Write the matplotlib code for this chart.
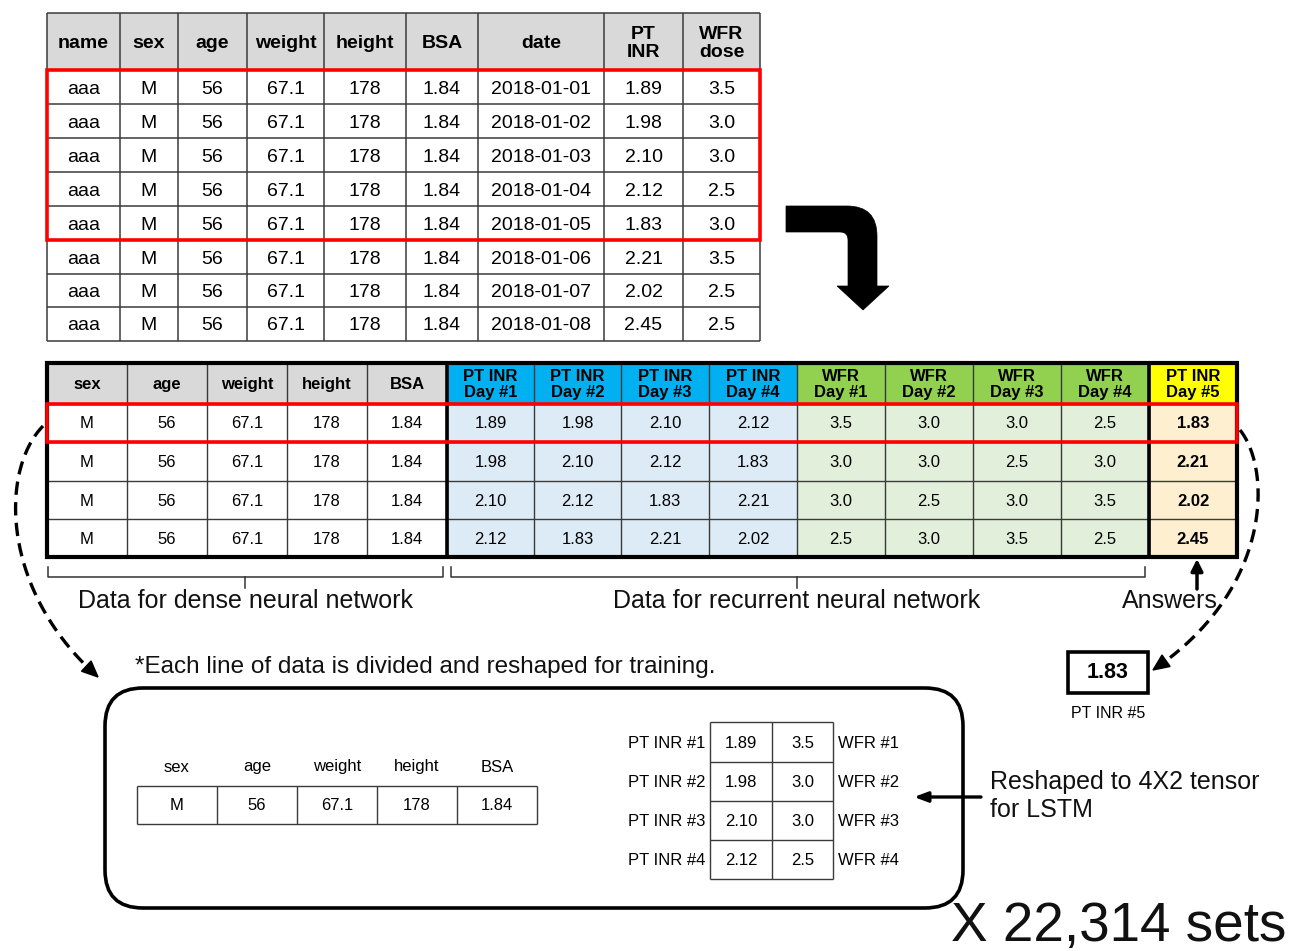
import matplotlib
matplotlib.use('Agg')
import matplotlib.pyplot as plt
from matplotlib.patches import Rectangle, FancyBboxPatch, Polygon, PathPatch
from matplotlib.path import Path
import numpy as np

plt.rcParams['font.family'] = ['Liberation Sans', 'DejaVu Sans']

# ---------------- data ----------------
top_headers = ['name', 'sex', 'age', 'weight', 'height', 'BSA', 'date', 'PT\nINR', 'WFR\ndose']
top_name = ['aaa', 'aaa', 'aaa', 'aaa', 'aaa', 'aaa', 'aaa', 'aaa']
top_sex = ['M', 'M', 'M', 'M', 'M', 'M', 'M', 'M']
top_age = [56, 56, 56, 56, 56, 56, 56, 56]
top_weight = [67.1, 67.1, 67.1, 67.1, 67.1, 67.1, 67.1, 67.1]
top_height = [178, 178, 178, 178, 178, 178, 178, 178]
top_bsa = [1.84, 1.84, 1.84, 1.84, 1.84, 1.84, 1.84, 1.84]
top_date = ['2018-01-01', '2018-01-02', '2018-01-03', '2018-01-04',
            '2018-01-05', '2018-01-06', '2018-01-07', '2018-01-08']
top_ptinr = [1.89, 1.98, 2.10, 2.12, 1.83, 2.21, 2.02, 2.45]
top_wfr = [3.5, 3.0, 3.0, 2.5, 3.0, 3.5, 2.5, 2.5]

mid_static_headers = ['sex', 'age', 'weight', 'height', 'BSA']
mid_inr_headers = ['PT INR\nDay #1', 'PT INR\nDay #2', 'PT INR\nDay #3', 'PT INR\nDay #4']
mid_wfr_headers = ['WFR\nDay #1', 'WFR\nDay #2', 'WFR\nDay #3', 'WFR\nDay #4']
mid_answer_header = 'PT INR\nDay #5'
mid_sex = ['M', 'M', 'M', 'M']
mid_age = [56, 56, 56, 56]
mid_weight = [67.1, 67.1, 67.1, 67.1]
mid_height = [178, 178, 178, 178]
mid_bsa = [1.84, 1.84, 1.84, 1.84]
mid_inr = [[1.89, 1.98, 2.10, 2.12],
           [1.98, 2.10, 2.12, 1.83],
           [2.10, 2.12, 1.83, 2.21],
           [2.12, 1.83, 2.21, 2.02]]
mid_wfr = [[3.5, 3.0, 3.0, 2.5],
           [3.0, 3.0, 2.5, 3.0],
           [3.0, 2.5, 3.0, 3.5],
           [2.5, 3.0, 3.5, 2.5]]
mid_answer = [1.83, 2.21, 2.02, 2.45]

dense_headers = ['sex', 'age', 'weight', 'height', 'BSA']
dense_values = ['M', '56', '67.1', '178', '1.84']
lstm_inr_labels = ['PT INR #1', 'PT INR #2', 'PT INR #3', 'PT INR #4']
lstm_inr = [1.89, 1.98, 2.10, 2.12]
lstm_wfr = [3.5, 3.0, 3.0, 2.5]
lstm_wfr_labels = ['WFR #1', 'WFR #2', 'WFR #3', 'WFR #4']
answer_value = 1.83
answer_label = 'PT INR #5'
n_sets_text = 'X 22,314 sets'

brace_labels = ['Data for dense neural network', 'Data for recurrent neural network', 'Answers']
note_text = '*Each line of data is divided and reshaped for training.'
lstm_text = 'Reshaped to 4X2 tensor\nfor LSTM'

# ---------------- figure ----------------
W, H = 1292, 951
fig = plt.figure(figsize=(W / 100, H / 100), dpi=100)
ax = fig.add_axes([0, 0, 1, 1])
ax.set_xlim(0, W)
ax.set_ylim(H, 0)
ax.axis('off')

GRID = '#3a3a3a'


def hline(x0, x1, y, lw=1.0, color=GRID, z=3):
    ax.plot([x0, x1], [y, y], color=color, lw=lw, zorder=z, solid_capstyle='butt')


def vline(x, y0, y1, lw=1.0, color=GRID, z=3):
    ax.plot([x, x], [y0, y1], color=color, lw=lw, zorder=z, solid_capstyle='butt')


def cell(x0, x1, y0, y1, color):
    ax.add_patch(Rectangle((x0, y0), x1 - x0, y1 - y0, facecolor=color, edgecolor='none', zorder=1))


def ctext(x, y, s, size, bold=False, ls=1.0, **kw):
    ax.text(x, y, s, ha='center', va='center', fontsize=size,
            fontweight='bold' if bold else 'normal', zorder=6, linespacing=ls, **kw)


# ---------------- top table ----------------
tcx = [47, 120, 178, 247, 324, 406, 478, 604, 683, 760]
tro = [13, 70, 104, 138, 172, 206, 240, 274, 307, 341]
cell(tcx[0], tcx[-1], tro[0], tro[1], '#d9d9d9')
for x in tcx:
    vline(x, tro[0], tro[-1], lw=1.1)
for y in tro:
    hline(tcx[0], tcx[-1], y, lw=1.1)
for j, h in enumerate(top_headers):
    ctext((tcx[j] + tcx[j + 1]) / 2, (tro[0] + tro[1]) / 2 + 2, h, 14, bold=True, ls=1.15)
top_cols = [top_name, top_sex, [str(v) for v in top_age], [f'{v:.1f}' for v in top_weight],
            [str(v) for v in top_height], [f'{v:.2f}' for v in top_bsa], top_date,
            [f'{v:.2f}' for v in top_ptinr], [f'{v:.1f}' for v in top_wfr]]
for j, col in enumerate(top_cols):
    for i, v in enumerate(col):
        ctext((tcx[j] + tcx[j + 1]) / 2, (tro[i + 1] + tro[i + 2]) / 2 + 2, v, 14)
ax.add_patch(Rectangle((tcx[0], tro[1]), tcx[-1] - tcx[0], tro[6] - tro[1],
                       facecolor='none', edgecolor='#ff0000', lw=2.6, zorder=5))

# ---------------- bent arrow ----------------
verts = [(786, 206), (847, 206), (877, 206), (877, 236), (877, 286), (889, 286), (863, 310),
         (837, 286), (848, 286), (848, 240), (848, 232), (840, 232), (786, 232), (786, 206)]
codes = [Path.MOVETO, Path.LINETO, Path.CURVE3, Path.CURVE3, Path.LINETO, Path.LINETO, Path.LINETO,
         Path.LINETO, Path.LINETO, Path.LINETO, Path.CURVE3, Path.CURVE3, Path.LINETO, Path.CLOSEPOLY]
ax.add_patch(PathPatch(Path(verts, codes), facecolor='black', edgecolor='black', lw=0.5, zorder=4))

# ---------------- middle table ----------------
mcx = [47, 127, 207, 287, 367, 447, 534, 621, 709, 797, 885, 973, 1061, 1149, 1237]
mry = [363, 404, 442, 481, 519, 557]
head_cols = ['#d9d9d9'] * 5 + ['#00b0f0'] * 4 + ['#92d050'] * 4 + ['#ffff00']
body_cols = ['#ffffff'] * 5 + ['#ddebf7'] * 4 + ['#e2efda'] * 4 + ['#fdefcf']
for j in range(14):
    cell(mcx[j], mcx[j + 1], mry[0], mry[1], head_cols[j])
    cell(mcx[j], mcx[j + 1], mry[1], mry[-1], body_cols[j])
for x in mcx:
    vline(x, mry[0], mry[-1], lw=1.0)
for y in mry:
    hline(mcx[0], mcx[-1], y, lw=1.0)
ax.add_patch(Rectangle((mcx[0], mry[0]), mcx[-1] - mcx[0], mry[-1] - mry[0],
                       facecolor='none', edgecolor='black', lw=3.0, zorder=4))
vline(mcx[5], mry[0], mry[-1], lw=2.6, color='black', z=4)
vline(mcx[13], mry[0], mry[-1], lw=2.6, color='black', z=4)

mid_head_all = mid_static_headers + mid_inr_headers + mid_wfr_headers + [mid_answer_header]
for j, h in enumerate(mid_head_all):
    ctext((mcx[j] + mcx[j + 1]) / 2, (mry[0] + mry[1]) / 2 + 1, h, 12, bold=True, ls=1.08)
static_cols = [mid_sex, [str(v) for v in mid_age], [f'{v:.1f}' for v in mid_weight],
               [str(v) for v in mid_height], [f'{v:.2f}' for v in mid_bsa]]
for i in range(4):
    yc = (mry[i + 1] + mry[i + 2]) / 2 + 1
    for j in range(5):
        ctext((mcx[j] + mcx[j + 1]) / 2, yc, static_cols[j][i], 12)
    for k in range(4):
        ctext((mcx[5 + k] + mcx[6 + k]) / 2, yc, f'{mid_inr[i][k]:.2f}', 12)
        ctext((mcx[9 + k] + mcx[10 + k]) / 2, yc, f'{mid_wfr[i][k]:.1f}', 12)
    ctext((mcx[13] + mcx[14]) / 2, yc, f'{mid_answer[i]:.2f}', 12, bold=True)
ax.add_patch(Rectangle((mcx[0], mry[1]), mcx[-1] - mcx[0], mry[2] - mry[1],
                       facecolor='none', edgecolor='#ff0000', lw=2.6, zorder=5))

# ---------------- braces ----------------
def brace(x0, x1, xc, ytop=567, ymid=577, ybot=588):
    ax.plot([x0, x0, x1, x1], [ytop, ymid, ymid, ytop], color='#333333', lw=1.1, zorder=3)
    ax.plot([xc, xc], [ymid, ybot], color='#333333', lw=1.1, zorder=3)

brace(48, 443, 245)
brace(451, 1145, 797)
ax.text(245, 601, brace_labels[0], ha='center', va='center', fontsize=18, color='#111111')
ax.text(797, 601, brace_labels[1], ha='center', va='center', fontsize=18, color='#111111')
ax.text(1170, 601, brace_labels[2], ha='center', va='center', fontsize=18, color='#111111')
ax.annotate('', xy=(1197, 559), xytext=(1197, 589),
            arrowprops=dict(arrowstyle='-|>,head_width=0.35,head_length=0.7', color='black', lw=2.5,
                            shrinkA=0, shrinkB=0), zorder=5)

# ---------------- dashed curved arrows ----------------
def bezier(p0, p1, p2, p3, n=200):
    t = np.linspace(0, 1, n)[:, None]
    p0, p1, p2, p3 = map(np.array, (p0, p1, p2, p3))
    return ((1 - t) ** 3) * p0 + 3 * ((1 - t) ** 2) * t * p1 + 3 * (1 - t) * t ** 2 * p2 + t ** 3 * p3


def dashed_arrow(p0, p1, p2, p3):
    pts = bezier(p0, p1, p2, p3)
    d = pts[-1] - pts[-8]
    d = d / np.linalg.norm(d)
    nrm = np.array([-d[1], d[0]])
    tip = pts[-1]
    L, Wd = 16, 7
    base = tip - d * L
    ax.plot(pts[:-10, 0], pts[:-10, 1], color='black', lw=2.4, ls=(0, (4, 2.2)), zorder=5)
    ax.add_patch(Polygon([tip, base + nrm * Wd, base - nrm * Wd], closed=True,
                         facecolor='black', edgecolor='black', zorder=5))

dashed_arrow((43, 426), (0, 470), (0, 590), (98, 677))
dashed_arrow((1240, 430), (1272, 470), (1272, 590), (1153, 670))

# ---------------- note ----------------
ax.text(135, 667, note_text, ha='left', va='center', fontsize=17.5, color='#111111')

# ---------------- rounded box ----------------
ax.add_patch(FancyBboxPatch((105, 688), 858, 220, boxstyle='round,pad=0,rounding_size=38',
                            facecolor='none', edgecolor='black', lw=2.6, zorder=4))

# dense part
dcx = [137, 217, 297, 377, 457, 537]
dry = [786, 824]
for j in range(5):
    xc = (dcx[j] + dcx[j + 1]) / 2
    ctext(xc, 767, dense_headers[j], 12)
    ctext(xc, (dry[0] + dry[1]) / 2 + 1, dense_values[j], 12)
for x in dcx:
    vline(x, dry[0], dry[1], lw=1.0)
for y in dry:
    hline(dcx[0], dcx[-1], y, lw=1.0)

# lstm part
lcx = [710, 772, 833]
lry = [722, 762, 801, 840, 879]
for x in lcx:
    vline(x, lry[0], lry[-1], lw=1.0)
for y in lry:
    hline(lcx[0], lcx[-1], y, lw=1.0)
for i in range(4):
    yc = (lry[i] + lry[i + 1]) / 2 + 1
    ax.text(705, yc, lstm_inr_labels[i], ha='right', va='center', fontsize=12, zorder=6)
    ctext((lcx[0] + lcx[1]) / 2, yc, f'{lstm_inr[i]:.2f}', 12)
    ctext((lcx[1] + lcx[2]) / 2, yc, f'{lstm_wfr[i]:.1f}', 12)
    ax.text(838, yc, lstm_wfr_labels[i], ha='left', va='center', fontsize=12, zorder=6)

ax.annotate('', xy=(914, 797), xytext=(981, 797),
            arrowprops=dict(arrowstyle='-|>,head_width=0.3,head_length=0.8', color='black', lw=2.4,
                            shrinkA=0, shrinkB=0), zorder=5)
ax.text(990, 796, lstm_text, ha='left', va='center', fontsize=18, linespacing=1.2, color='#111111')

# answer box
ax.add_patch(Rectangle((1068, 652), 80, 41, facecolor='white', edgecolor='black', lw=2.6, zorder=4))
ctext(1108, 673, f'{answer_value:.2f}', 15.5, bold=True)
ctext(1108, 714, answer_label, 11.5)

# sets
ax.text(951, 941, n_sets_text, ha='left', va='baseline', fontsize=39.5, color='#111111')

fig.savefig('out.png', dpi=100)
